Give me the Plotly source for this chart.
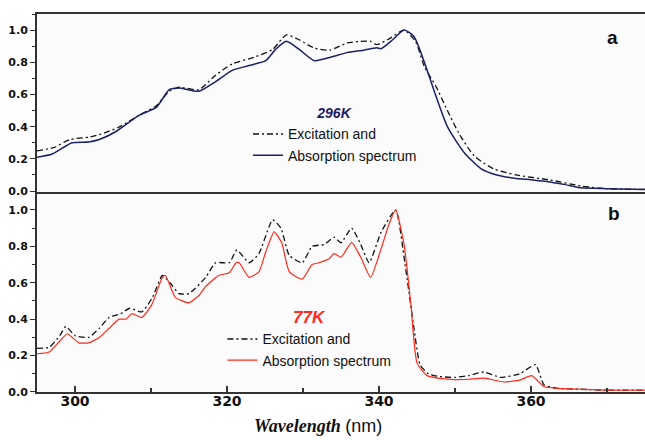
import plotly.graph_objects as go

# ---- 296 K spectra (panel a) ----
wl_abs_296 = [295.0, 297.0, 299.6, 301.8, 303.2, 305.4, 308.4, 310.7, 312.4, 313.7, 316.3,
               318.5, 320.7, 322.9, 325.1, 326.4, 327.8, 329.5, 331.5, 333.5, 335.8, 338.0,
               339.7, 340.3, 341.8, 343.3, 344.6, 345.9, 347.2, 349.0, 351.2, 353.4, 355.5,
               357.8, 360.0, 362.1, 364.5, 366.6, 370.0, 375.0]
abs_296 = [0.21, 0.23, 0.30, 0.305, 0.32, 0.37, 0.47, 0.52, 0.63, 0.64, 0.62,
           0.68, 0.75, 0.78, 0.81, 0.88, 0.93, 0.88, 0.81, 0.83, 0.86, 0.875,
           0.89, 0.885, 0.94, 1.00, 0.96, 0.81, 0.63, 0.40, 0.24, 0.14, 0.10,
           0.08, 0.07, 0.06, 0.04, 0.02, 0.015, 0.01]

wl_exc_296 = [295.0, 297.2, 299.3, 301.8, 303.2, 305.9, 308.4, 310.7, 312.4, 313.7, 316.3,
               318.5, 320.7, 323.5, 326.0, 327.8, 329.5, 331.4, 333.5, 335.8, 337.5,
               338.9, 339.7, 341.5, 343.3, 344.8, 346.0, 347.5, 349.0, 350.5, 352.5,
               355.0, 358.0, 362.4, 366.8, 370.0, 375.0]
exc_296 = [0.25, 0.27, 0.32, 0.335, 0.35, 0.40, 0.47, 0.53, 0.62, 0.645, 0.63,
           0.72, 0.79, 0.83, 0.88, 0.97, 0.94, 0.89, 0.875, 0.92, 0.93,
           0.93, 0.91, 0.95, 1.00, 0.93, 0.77, 0.65, 0.50, 0.36, 0.22,
           0.14, 0.10, 0.07, 0.03, 0.015, 0.01]

# ---- 77 K spectra (panel b) ----
wl_abs_77 = [295.0, 296.6, 298.0, 299.0, 300.5, 301.8, 303.2, 304.5, 305.8, 306.7, 307.5,
              308.8, 310.1, 311.5, 311.9, 313.2, 315.0, 316.3, 317.2, 318.9, 320.3, 321.2,
              321.6, 322.9, 324.2, 325.1, 326.2, 327.2, 328.2, 329.9, 331.2, 332.1, 333.4,
              334.1, 335.0, 336.4, 337.6, 338.9, 340.3, 341.3, 342.2, 343.3, 344.2, 345.0,
              346.3, 348.0, 349.9, 351.8, 353.8, 356.4, 358.5, 360.1, 361.7, 363.5, 366.6,
              370.0, 375.0]
abs_77 = [0.21, 0.22, 0.28, 0.32, 0.27, 0.27, 0.30, 0.35, 0.40, 0.40, 0.43,
          0.41, 0.48, 0.63, 0.64, 0.52, 0.49, 0.53, 0.58, 0.64, 0.655, 0.71,
          0.71, 0.63, 0.66, 0.77, 0.88, 0.82, 0.66, 0.62, 0.70, 0.71, 0.73,
          0.76, 0.74, 0.82, 0.74, 0.63, 0.79, 0.92, 1.00, 0.81, 0.48, 0.16,
          0.09, 0.075, 0.068, 0.07, 0.076, 0.055, 0.065, 0.09, 0.03, 0.02, 0.015,
          0.01, 0.01]

wl_exc_77 = [295.0, 296.6, 298.0, 298.8, 300.0, 301.8, 303.2, 304.5, 306.0, 307.2,
              308.8, 310.2, 311.5, 312.5, 313.7, 315.0, 317.2, 318.5, 320.3, 321.3,
              322.9, 324.2, 326.0, 327.1, 328.2, 329.9, 331.2, 332.8, 334.1, 335.0,
              336.4, 337.6, 338.7, 340.3, 342.2, 343.4, 344.6, 345.4, 346.5, 348.0,
              349.9, 351.8, 353.8, 356.0, 358.5, 360.6, 361.7, 363.5, 366.6, 370.0, 375.0]
exc_77 = [0.24, 0.245, 0.31, 0.36, 0.31, 0.30, 0.35, 0.41, 0.43, 0.46,
          0.44, 0.52, 0.64, 0.60, 0.54, 0.54, 0.63, 0.71, 0.71, 0.78,
          0.71, 0.76, 0.945, 0.90, 0.75, 0.71, 0.80, 0.81, 0.85, 0.82,
          0.90, 0.81, 0.71, 0.88, 1.00, 0.71, 0.35, 0.15, 0.10, 0.085,
          0.08, 0.09, 0.11, 0.08, 0.10, 0.15, 0.04, 0.02, 0.015, 0.01, 0.01]

x_ticks = [300, 320, 340, 360]

NAVY = "#1b2063"
RED = "#ff2a1a"
DASHDOT = "6px,3px,2px,3px"

fig = go.Figure()

fig.add_trace(go.Scatter(x=wl_exc_296, y=exc_296, mode="lines", name="Excitation and",
                         line=dict(color="#111111", width=1.3, dash=DASHDOT, shape="spline", smoothing=0.6),
                         xaxis="x2", yaxis="y2", legend="legend"))
fig.add_trace(go.Scatter(x=wl_abs_296, y=abs_296, mode="lines", name="Absorption spectrum",
                         line=dict(color=NAVY, width=1.5, shape="spline", smoothing=0.6),
                         xaxis="x2", yaxis="y2", legend="legend"))
fig.add_trace(go.Scatter(x=wl_exc_77, y=exc_77, mode="lines", name="Excitation and",
                         line=dict(color="#111111", width=1.3, dash=DASHDOT, shape="spline", smoothing=0.5),
                         xaxis="x", yaxis="y", legend="legend2"))
fig.add_trace(go.Scatter(x=wl_abs_77, y=abs_77, mode="lines", name="Absorption spectrum",
                         line=dict(color=RED, width=1.2, shape="spline", smoothing=0.5),
                         xaxis="x", yaxis="y", legend="legend2"))

AX = "#333333"
tickfont_y = dict(family="DejaVu Sans", size=11, color="#111111", weight="bold")
tickfont_x = dict(family="DejaVu Sans", size=14, color="#111111", weight="bold")

fig.update_layout(
    width=645, height=440,
    margin=dict(l=37, r=0, t=14, b=48),
    paper_bgcolor="#ffffff",
    plot_bgcolor="#fbfbfb",
    xaxis=dict(anchor="y", domain=[0, 1], range=[295, 375], tickvals=x_ticks,
               ticks="inside", ticklen=6, tickwidth=1.5, tickcolor=AX,
               minor=dict(dtick=10, tick0=300, ticks="inside", ticklen=4, tickcolor=AX),
               showline=True, linewidth=2, linecolor=AX, showgrid=False, zeroline=False,
               tickfont=tickfont_x, ticklabelstandoff=-5),
    xaxis2=dict(anchor="y2", matches="x", range=[295, 375], showticklabels=False, ticks="",
                showline=True, linewidth=2, linecolor=AX, mirror=True,
                showgrid=False, zeroline=False),
    yaxis=dict(anchor="x", domain=[0, 0.524], range=[0, 1.088], dtick=0.2, tick0=0,
               tickformat=".1f", ticks="outside", ticklen=5, tickwidth=1.2, tickcolor=AX,
               minor=dict(dtick=0.1, tick0=0, ticks="outside", ticklen=3, tickcolor=AX),
               showline=True, linewidth=2, linecolor=AX, showgrid=False, zeroline=False,
               tickfont=tickfont_y),
    yaxis2=dict(anchor="x2", domain=[0.529, 1], range=[-0.006, 1.1], dtick=0.2, tick0=0,
                tickformat=".1f", ticks="outside", ticklen=5, tickwidth=1.2, tickcolor=AX,
                minor=dict(dtick=0.1, tick0=0, ticks="outside", ticklen=3, tickcolor=AX),
                showline=True, linewidth=2, linecolor=AX, showgrid=False, zeroline=False,
                tickfont=tickfont_y),
    legend=dict(x=0.347, y=0.772, xanchor="left", yanchor="top",
                bgcolor="rgba(0,0,0,0)", borderwidth=0, tracegroupgap=0,
                font=dict(family="Liberation Sans", size=14, color="#111111"),
                title=dict(text="<b><i>296K</i></b>", side="top center",
                           font=dict(family="Liberation Sans", size=14, color=NAVY))),
    legend2=dict(x=0.305, y=0.240, xanchor="left", yanchor="top",
                 bgcolor="rgba(0,0,0,0)", borderwidth=0, tracegroupgap=0,
                 font=dict(family="Liberation Sans", size=14, color="#111111"),
                 title=dict(text="<b><i>77K</i></b>", side="top center",
                            font=dict(family="Liberation Sans", size=17, color=RED))),
    showlegend=True,
)

# panel letters
fig.add_annotation(text="<b>a</b>", xref="paper", yref="paper", x=(620 - 37) / 608,
                   y=1 - (25 - 14) / 378, showarrow=False,
                   font=dict(family="Liberation Sans", size=19, color="#111111"))
fig.add_annotation(text="<b>b</b>", xref="paper", yref="paper", x=(622 - 37) / 608,
                   y=1 - (213 - 14) / 378, showarrow=False,
                   font=dict(family="Liberation Sans", size=19, color="#111111"))

# x-axis title
fig.add_annotation(
    text="<b><i>Wavelength</i></b> <span style='font-family:Liberation Sans'>(nm)</span>",
    xref="paper", yref="paper", x=(318 - 37) / 608, y=-(426 - 392) / 378,
    showarrow=False, yanchor="middle",
    font=dict(family="Liberation Serif", size=18, color="#111111"))

fig.write_html("out.html")
